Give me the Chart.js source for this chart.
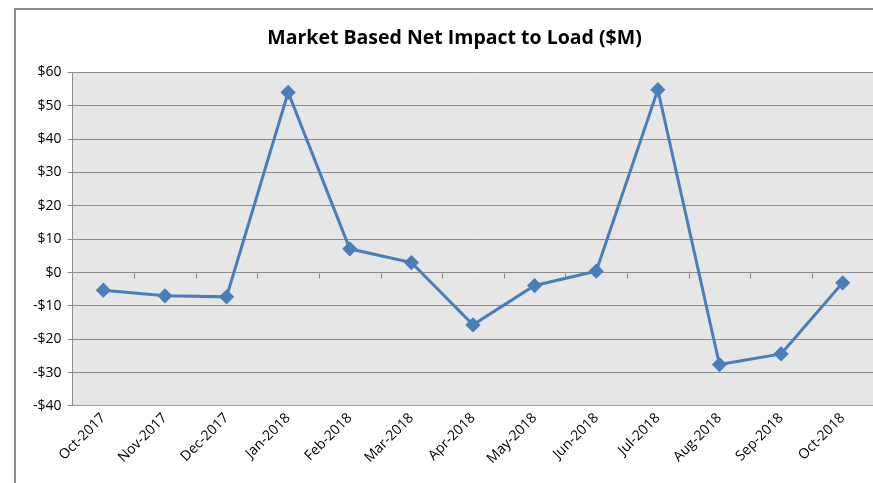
<!DOCTYPE html>
<html>
<head>
<meta charset="utf-8">
<script src="https://cdn.jsdelivr.net/npm/chart.js@4/dist/chart.umd.min.js"></script>
<style>
  html, body { margin: 0; padding: 0; background: #fff; overflow: hidden; }
  #frame {
    position: absolute; left: 14px; top: 8px;
    width: 880px; height: 475px;
    border-left: 2px solid #8c8c8c; border-top: 2px solid #8c8c8c;
    box-sizing: border-box;
  }
  #chart { display: block; }
</style>
</head>
<body>
<div id="frame"><canvas id="chart" width="866" height="473"></canvas></div>
<script>
const months = ['Oct-2017', 'Nov-2017', 'Dec-2017', 'Jan-2018', 'Feb-2018', 'Mar-2018', 'Apr-2018',
    'May-2018', 'Jun-2018', 'Jul-2018', 'Aug-2018', 'Sep-2018', 'Oct-2018'];
const netImpact = [-5.3, -7.0, -7.3, 54.0, 7.1, 3.0, -15.7, -3.9, 0.4, 54.8, -27.6, -24.4, -3.1];
const chartTitle = 'Market Based Net Impact to Load ($M)';

const lineBlue = '#4a7ebb';

// grey plot area like the original spreadsheet chart
const plotBackground = {
    id: 'plotBackground',
    beforeDraw(chart) {
        const { ctx, chartArea: a } = chart;
        ctx.save();
        ctx.fillStyle = '#e6e6e6';
        ctx.fillRect(a.left, a.top, a.right - a.left, a.bottom - a.top);
        ctx.restore();
    }
};

// small category tick marks hanging under the $0 line
const zeroTicks = {
    id: 'zeroTicks',
    afterDraw(chart) {
        const { ctx } = chart;
        const x = chart.scales.x, y = chart.scales.y;
        const y0 = Math.round(y.getPixelForValue(0)) + 0.5;
        ctx.save();
        ctx.strokeStyle = '#8c8c8c';
        ctx.lineWidth = 1;
        ctx.beginPath();
        for (let i = 1; i < months.length; i++) {
            const px = Math.round((x.getPixelForValue(i - 1) + x.getPixelForValue(i)) / 2) + 0.5;
            ctx.moveTo(px, y0);
            ctx.lineTo(px, y0 + 5);
        }
        ctx.stroke();
        ctx.restore();
    }
};

const chart = new Chart(document.getElementById('chart'), {
    type: 'line',
    data: {
        labels: months,
        datasets: [{
            label: 'Net Impact',
            data: netImpact,
            borderColor: lineBlue,
            backgroundColor: lineBlue,
            borderWidth: 3,
            pointStyle: 'rectRot',
            pointRadius: 5.5,
            pointHoverRadius: 5.5,
            tension: 0
        }]
    },
    options: {
        responsive: false,
        animation: false,
        layout: { padding: { left: 11, right: 0, top: 0, bottom: 12 } },
        plugins: {
            legend: { display: false },
            tooltip: { enabled: false },
            title: {
                display: true,
                text: chartTitle,
                color: '#000',
                font: { family: 'Open Sans', size: 19.5, weight: 'bold' },
                padding: { top: 17, bottom: 22 }
            }
        },
        scales: {
            x: {
                offset: true,
                grid: { display: true, drawOnChartArea: false, drawTicks: false, offset: true },
                border: { color: '#a0a0a0' },
                ticks: {
                    color: '#000',
                    font: { family: 'Open Sans', size: 14 },
                    maxRotation: 45,
                    minRotation: 45,
                    autoSkip: false,
                    padding: 4
                }
            },
            y: {
                min: -40,
                max: 60,
                ticks: {
                    stepSize: 10,
                    color: '#000',
                    font: { family: 'Open Sans', size: 14 },
                    padding: 6,
                    callback: v => (v < 0 ? '-$' + Math.abs(v) : '$' + v)
                },
                grid: { color: '#8c8c8c', tickLength: 5, tickColor: '#8c8c8c' },
                border: { color: '#8c8c8c' }
            }
        }
    },
    plugins: [plotBackground, zeroTicks]
});
</script>
</body>
</html>
